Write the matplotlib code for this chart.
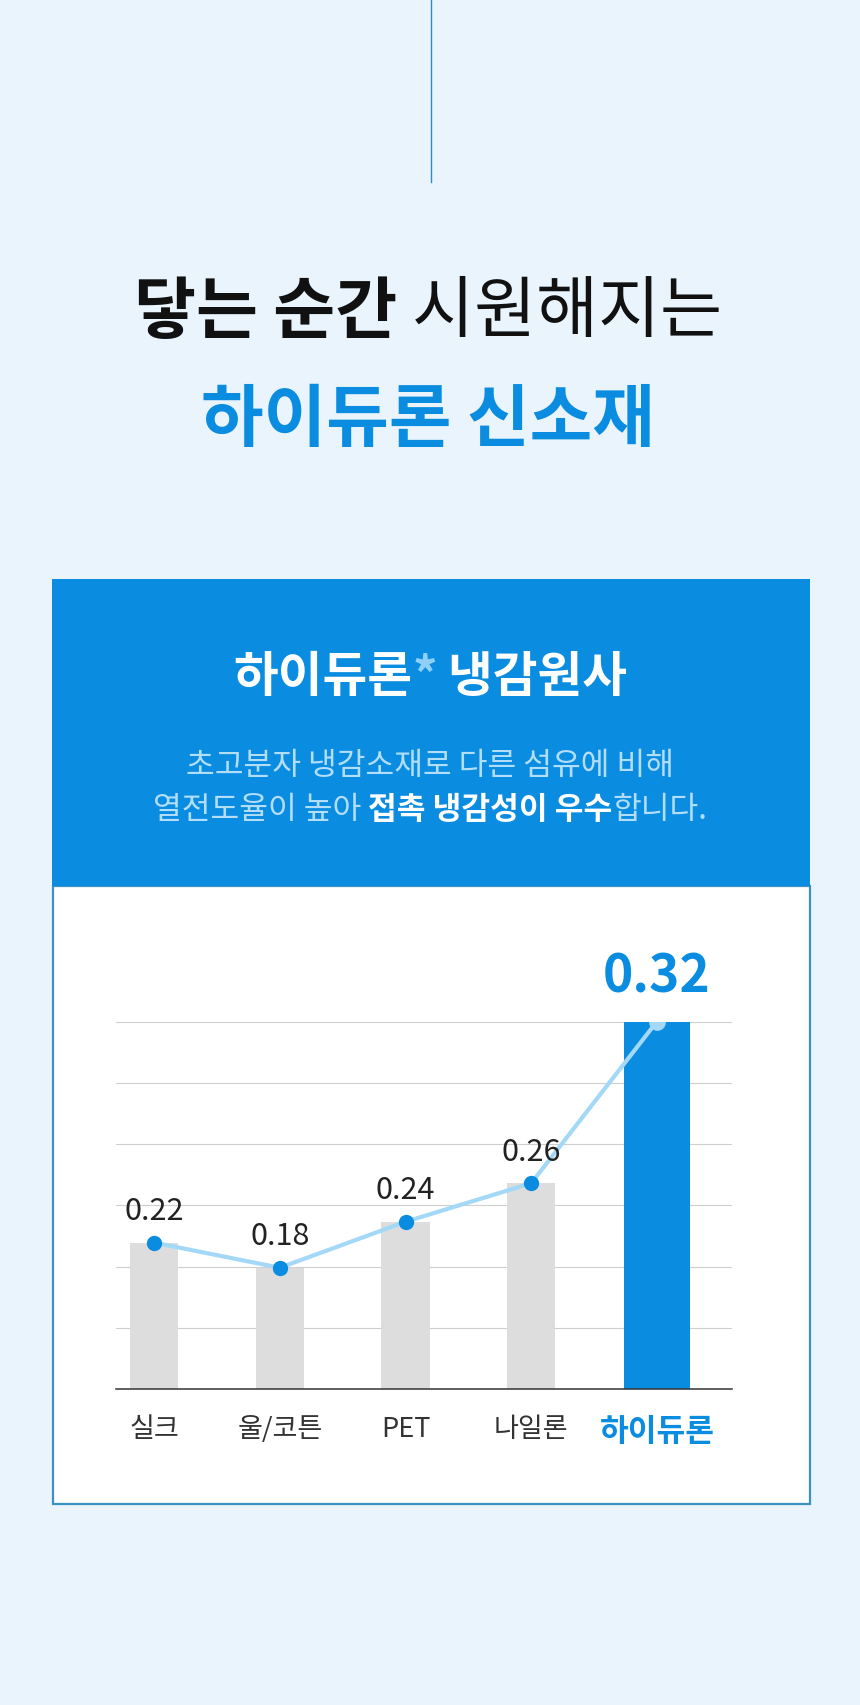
import numpy as np
import matplotlib.pyplot as plt
from matplotlib.patches import Rectangle

plt.rcParams['font.family'] = ['Noto Sans CJK KR', 'DejaVu Sans']

# data
categories = ['실크', '울/코튼', 'PET', '나일론', '하이듀론']
values = [0.22, 0.18, 0.24, 0.26, 0.32]
# drawn bar heights (in grid steps) - the graphic is not to scale
bar_heights = [2.39, 1.98, 2.73, 3.36, 6.0]

BG = '#eaf4fc'
BLUE = '#0a8ce0'
LIGHT = '#a3d8f7'
GREY = '#dddddd'

fig = plt.figure(figsize=(8.6, 17.06), dpi=100, facecolor=BG)
renderer = fig.canvas.get_renderer()

# overlay axes in pixel coords
bg = fig.add_axes([0, 0, 1, 1], zorder=0)
bg.set_xlim(0, 860)
bg.set_ylim(1706, 0)
bg.axis('off')
bg.set_facecolor(BG)

bg.plot([430.5, 430.5], [0, 183], color='#2b8ccf', lw=1)


def rich_text(x_center, y, pieces, size):
    objs = []
    for s, weight, color in pieces:
        t = bg.text(0, y, s, fontsize=size, fontweight=weight, color=color,
                    ha='left', va='center')
        objs.append(t)
    widths = [t.get_window_extent(renderer).width for t in objs]
    x = x_center - sum(widths) / 2
    for t, w in zip(objs, widths):
        t.set_x(x)
        x += w


rich_text(428, 313, [('닿는 순간', 'bold', '#111111'), (' 시원해지는', 'light', '#111111')], 48.5)
bg.text(428, 421, '하이듀론 신소재', fontsize=49, fontweight='bold', color=BLUE,
        ha='center', va='center')

# panel
bg.add_patch(Rectangle((53, 887), 757, 618, facecolor='white', edgecolor='#3b90c4', lw=1.6))
bg.add_patch(Rectangle((52, 580), 758, 307, facecolor=BLUE, edgecolor='none'))

rich_text(430, 677, [('하이듀론', 'bold', 'white'), ('*', 'bold', '#8fd0f7'), (' 냉감원사', 'bold', 'white')], 35)
bg.text(430, 766, '초고분자 냉감소재로 다른 섬유에 비해', fontsize=22.5, fontweight='light',
        color='#b3defa', ha='center', va='center')
rich_text(430, 810, [('열전도율이 높아 ', 'light', '#b3defa'), ('접촉 냉감성이 우수', 'bold', 'white'),
                     ('합니다.', 'light', '#b3defa')], 22.5)

# chart
ax = fig.add_axes([116 / 860, (1706 - 1390) / 1706, 616 / 860, 367.5 / 1706], zorder=2)
ax.set_facecolor('none')
x = np.arange(len(categories))
ax.set_xlim(-0.303, 4.597)
ax.set_ylim(0, 6)
for s in ['top', 'right', 'left']:
    ax.spines[s].set_visible(False)
ax.spines['bottom'].set_color('#333333')
ax.spines['bottom'].set_linewidth(1.1)
ax.set_yticks(np.arange(1, 7))
ax.yaxis.grid(True, color='#cfcfcf', lw=0.8)
ax.set_axisbelow(True)
ax.tick_params(left=False, labelleft=False, bottom=False)

colors = [GREY] * 4 + [BLUE]
widths = [0.386] * 4 + [0.53]
ax.bar(x, bar_heights, width=widths, color=colors, zorder=2)
ax.plot(x, bar_heights, color=LIGHT, lw=3, zorder=3, solid_capstyle='round')
ax.plot(x[:-1], bar_heights[:-1], 'o', color=BLUE, ms=10, zorder=4)
ax.plot(x[-1:], bar_heights[-1:], 'o', color=LIGHT, ms=11, zorder=4)

for i, (v, h) in enumerate(zip(values, bar_heights)):
    if i == len(values) - 1:
        ax.annotate(f'{v:.2f}', (x[i], h), xytext=(0, 33), textcoords='offset points',
                    ha='center', va='center', fontsize=37, fontweight='bold', color=BLUE,
                    annotation_clip=False)
    else:
        ax.annotate(f'{v:.2f}', (x[i], h), xytext=(0, 23), textcoords='offset points',
                    ha='center', va='center', fontsize=22, fontweight='medium', color='#222222',
                    annotation_clip=False)

ax.set_xticks(x)
ax.set_xticklabels(categories)
for i, lab in enumerate(ax.get_xticklabels()):
    if i == len(categories) - 1:
        lab.set_fontsize(22.5)
        lab.set_fontweight('bold')
        lab.set_color(BLUE)
    else:
        lab.set_fontsize(19.5)
        lab.set_fontweight('light')
        lab.set_color('#333333')
ax.tick_params(axis='x', pad=15)

fig.savefig('out.png', dpi=100, facecolor=BG)
